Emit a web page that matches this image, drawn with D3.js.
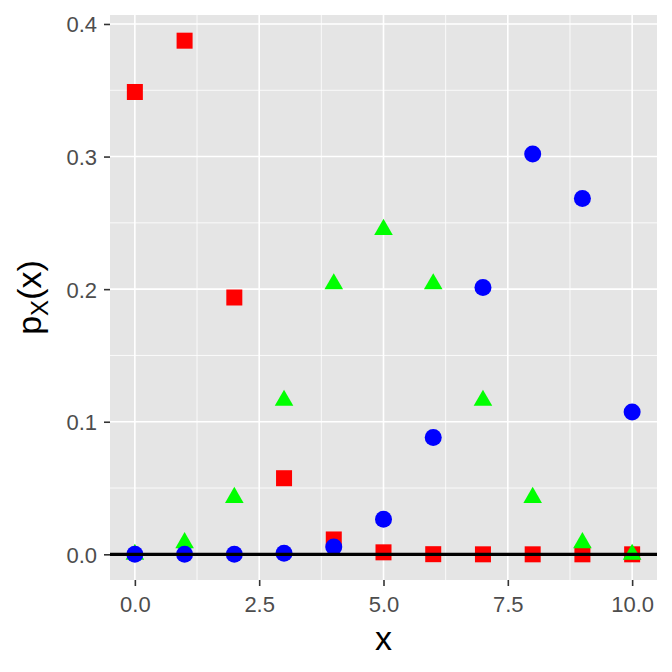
<!DOCTYPE html>
<html>
<head>
<meta charset="utf-8">
<script src="https://cdn.jsdelivr.net/npm/d3@7"></script>
<style>
  body { margin: 0; background: #fff; }
  text { font-family: "Liberation Sans", Arial, sans-serif; }
</style>
</head>
<body>
<script>
// binomial pmfs, n = 10
var xs = [0, 1, 2, 3, 4, 5, 6, 7, 8, 9, 10];
var pLow = [0.3487, 0.3874, 0.1937, 0.0574, 0.0112, 0.0015, 0.0001, 0.0000, 0.0000, 0.0000, 0.0000];
var pMid = [0.0010, 0.0098, 0.0439, 0.1172, 0.2051, 0.2461, 0.2051, 0.1172, 0.0439, 0.0098, 0.0010];
var pHigh = [0.0000, 0.0000, 0.0001, 0.0008, 0.0055, 0.0264, 0.0881, 0.2013, 0.3020, 0.2684, 0.1074];
var xTicks = [0, 2.5, 5, 7.5, 10];
var xMinor = [1.25, 3.75, 6.25, 8.75];
var yTicks = [0, 0.1, 0.2, 0.3, 0.4];
var yMinor = [0.05, 0.15, 0.25, 0.35];

var W = 672, H = 672;
var pLeft = 110, pRight = 657, pTop = 15, pBottom = 580;

var svg = d3.select("body").append("svg")
    .attr("width", W)
    .attr("height", H);

var x = d3.scaleLinear().domain([-0.5, 10.5]).range([pLeft, pRight]);
var y = d3.scaleLinear().domain([-0.01937, 0.40677]).range([pBottom, pTop]);

// panel
svg.append("rect")
    .attr("x", pLeft).attr("y", pTop)
    .attr("width", pRight - pLeft).attr("height", pBottom - pTop)
    .attr("fill", "#e5e5e5");

var grid = svg.append("g");
xMinor.forEach(function(v){
    grid.append("line").attr("x1", x(v)).attr("x2", x(v)).attr("y1", pTop).attr("y2", pBottom)
        .attr("stroke", "#fff").attr("stroke-width", 0.8);
});
yMinor.forEach(function(v){
    grid.append("line").attr("x1", pLeft).attr("x2", pRight).attr("y1", y(v)).attr("y2", y(v))
        .attr("stroke", "#fff").attr("stroke-width", 0.8);
});
xTicks.forEach(function(v){
    grid.append("line").attr("x1", x(v)).attr("x2", x(v)).attr("y1", pTop).attr("y2", pBottom)
        .attr("stroke", "#fff").attr("stroke-width", 1.6);
});
yTicks.forEach(function(v){
    grid.append("line").attr("x1", pLeft).attr("x2", pRight).attr("y1", y(v)).attr("y2", y(v))
        .attr("stroke", "#fff").attr("stroke-width", 1.6);
});

// axes
var xAxis = svg.append("g")
    .attr("transform", "translate(0," + pBottom + ")")
    .call(d3.axisBottom(x).tickValues(xTicks).tickFormat(d3.format(".1f")).tickSizeInner(6).tickSizeOuter(0).tickPadding(4));
var yAxis = svg.append("g")
    .attr("transform", "translate(" + pLeft + ",0)")
    .call(d3.axisLeft(y).tickValues(yTicks).tickFormat(d3.format(".1f")).tickSizeInner(6).tickSizeOuter(0).tickPadding(7));
[xAxis, yAxis].forEach(function(a){
    a.select(".domain").remove();
    a.selectAll("line").attr("stroke", "#333").attr("stroke-width", 1.6);
    a.selectAll("text").attr("fill", "#4d4d4d").style("font-size", "22px");
});
yAxis.selectAll("text").attr("dy", "0.36em");
xAxis.selectAll("text").attr("dy", "0.98em");

// points: red squares, green triangles, blue circles
var s = 16;
svg.append("g").selectAll("rect")
    .data(xs).join("rect")
    .attr("x", function(d, i){ return x(d) - s/2; })
    .attr("y", function(d, i){ return y(pLow[i]) - s/2; })
    .attr("width", s).attr("height", s)
    .attr("fill", "#ff0000");

var tri = d3.symbol().type(d3.symbolTriangle).size(150);
svg.append("g").selectAll("path")
    .data(xs).join("path")
    .attr("d", tri)
    .attr("transform", function(d, i){ return "translate(" + x(d) + "," + (y(pMid[i]) + 1.5) + ")"; })
    .attr("fill", "#00ff00");

svg.append("g").selectAll("circle")
    .data(xs).join("circle")
    .attr("cx", function(d){ return x(d); })
    .attr("cy", function(d, i){ return y(pHigh[i]); })
    .attr("r", 8.5)
    .attr("fill", "#0000ff");

// hline at zero
svg.append("line")
    .attr("x1", pLeft).attr("x2", pRight)
    .attr("y1", y(0)).attr("y2", y(0))
    .attr("stroke", "#000").attr("stroke-width", 3.2);

// axis titles
svg.append("text")
    .attr("x", (pLeft + pRight) / 2).attr("y", 650)
    .attr("text-anchor", "middle")
    .style("font-size", "34px")
    .text("x");

var yt = svg.append("text")
    .attr("transform", "translate(41," + ((pTop + pBottom) / 2) + ") rotate(-90)")
    .attr("text-anchor", "middle")
    .style("font-size", "34px");
yt.append("tspan").text("p");
yt.append("tspan").attr("dy", 7).style("font-size", "24px").text("X");
yt.append("tspan").attr("dy", -7).text("(x)");
</script>
</body>
</html>
